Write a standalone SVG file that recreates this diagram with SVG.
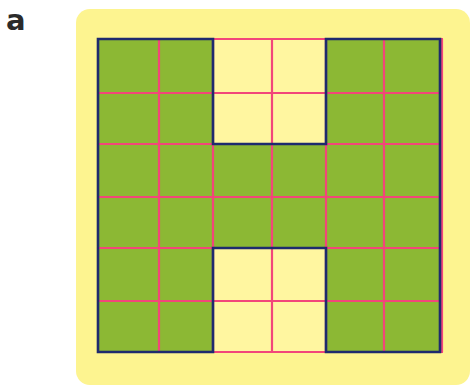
<svg xmlns="http://www.w3.org/2000/svg" width="473" height="387" viewBox="0 0 473 387">
<style>
.bg{fill:#fdf490}
.g{fill:#8cb834}
.y{fill:#fff6a0}
.pk{stroke:#f2467a;stroke-width:2.2;fill:none}
.bl{stroke:#1e2a6e;stroke-width:2.6;fill:none;stroke-linejoin:miter}
.lbl{font-family:"DejaVu Sans",sans-serif;font-weight:bold;font-size:29px;fill:#2b2b2b}
</style>
<rect width="473" height="387" fill="#ffffff"/>
<text class="lbl" x="6" y="30">a</text>
<g id="board">
<rect class="bg" x="76" y="9" width="394" height="376" rx="14"/>
</g>
<g id="cells">
<rect class="g" x="98" y="39" width="342" height="313"/>
<rect class="y" x="213" y="39" width="113" height="105"/>
<rect class="y" x="213" y="248" width="113" height="104"/>
</g>
<g id="connectors">
<g class="pk">
<line x1="159" y1="39" x2="159" y2="352"/>
<line x1="213" y1="39" x2="213" y2="352"/>
<line x1="272" y1="39" x2="272" y2="352"/>
<line x1="326" y1="39" x2="326" y2="352"/>
<line x1="384" y1="39" x2="384" y2="352"/>
<line x1="442" y1="39" x2="442" y2="352"/>
<line x1="98" y1="39" x2="443" y2="39"/>
<line x1="98" y1="93" x2="443" y2="93"/>
<line x1="98" y1="144" x2="443" y2="144"/>
<line x1="98" y1="197" x2="443" y2="197"/>
<line x1="98" y1="248" x2="443" y2="248"/>
<line x1="98" y1="301" x2="443" y2="301"/>
<line x1="98" y1="352" x2="443" y2="352"/>
</g>
<polygon class="bl" points="98,39 213,39 213,144 326,144 326,39 440,39 440,352 326,352 326,248 213,248 213,352 98,352"/>
</g>
</svg>
